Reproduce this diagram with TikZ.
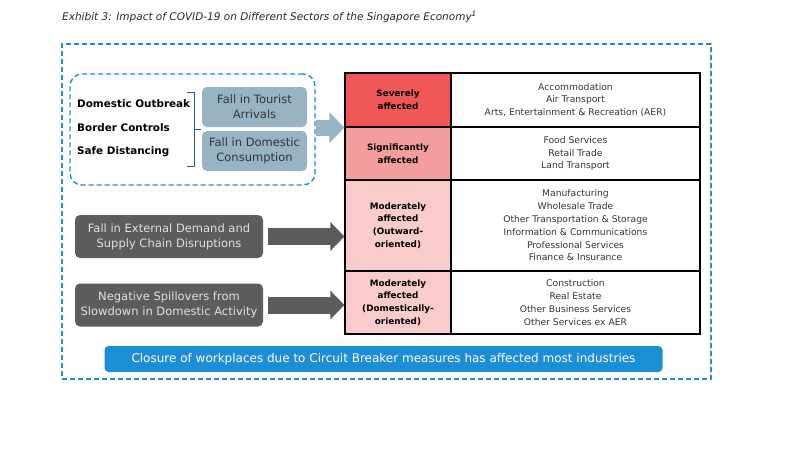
\documentclass[tikz,border=0pt]{standalone}
\usepackage{fontspec}
\setmainfont{DejaVu Sans}
\usetikzlibrary{arrows.meta}

\definecolor{exblue}{RGB}{28,142,213}
\definecolor{greyblue}{RGB}{151,180,196}
\definecolor{darkbox}{RGB}{92,92,92}
\definecolor{severe}{RGB}{239,87,86}
\definecolor{signif}{RGB}{243,158,157}
\definecolor{moder}{RGB}{249,203,203}

\begin{document}
\begin{tikzpicture}[x=1pt,y=-1pt]
	\tikzstyle{frame} = [draw=exblue,line width=1.4pt,dash pattern=on 5pt off 3pt]
	\tikzstyle{cause} = [font=\bfseries\fontsize{10.4}{13}\selectfont,anchor=west]
	\tikzstyle{effect} = [fill=greyblue,rounded corners=5pt,minimum width=105,minimum height=40,
		inner xsep=1pt,align=center,text=black!80,font=\fontsize{11.5}{15}\selectfont]
	\tikzstyle{driver} = [fill=darkbox,rounded corners=5pt,minimum width=188,minimum height=43,
		inner xsep=1pt,align=center,text=black!12,font=\fontsize{11.5}{15}\selectfont]
	\tikzstyle{level} = [draw=black,line width=1.2pt,minimum width=106,align=center,
		font=\bfseries\fontsize{8.8}{12.8}\selectfont]
	\tikzstyle{sectors} = [draw=black,line width=1.2pt,minimum width=249,align=center,
		text=black!80,font=\fontsize{9.2}{12.8}\selectfont]
	\tikzstyle{blockarrow} = [line width=17pt,-{Triangle[length=14pt,width=28pt]}]
	\useasboundingbox (0,0) rectangle (791,453);
	% title and frames
	\node[anchor=west,font=\itshape\fontsize{10.5}{12}\selectfont,text=black!85,inner xsep=0pt] (title) at (62,17)
		{Exhibit 3: Impact of COVID-19 on Different Sectors of the Singapore Economy\textsuperscript{1}};
	\node[frame,minimum width=649,minimum height=335] (outer) at (386.5,211.5) {};
	\node[frame,rounded corners=12pt,minimum width=245,minimum height=111] (inner) at (192.5,129.5) {};
	% causes
	\node[cause,inner xsep=0pt] (outbreak) at (77,104) {Domestic Outbreak};
	\node[cause,inner xsep=0pt] (border) at (77,128) {Border Controls};
	\node[cause,inner xsep=0pt] (distancing) at (77,152) {Safe Distancing};
	\coordinate (bracetop) at (194,92);
	\coordinate (bracebot) at (194,166);
	\draw[exblue!70!black,line width=0.9pt] ([xshift=-7pt]bracetop) -- (bracetop) -- (bracebot) -- ([xshift=-7pt]bracebot);
	\draw[exblue!70!black,line width=0.9pt] (194,129) -- (201,129);
	\node[effect] (tourist) at (254.5,107) {Fall in Tourist\\Arrivals};
	\node[effect] (consumption) at (254.5,151) {Fall in Domestic\\Consumption};
	% table
	\node[level,fill=severe,minimum height=54] (sev) at (398,100) {Severely\\affected};
	\node[level,fill=signif,minimum height=53] (sig) at (398,153.5) {Significantly\\affected};
	\node[level,fill=moder,minimum height=91] (modout) at (398,225.5) {Moderately\\affected\\(Outward-\\oriented)};
	\node[level,fill=moder,minimum height=63] (moddom) at (398,302.5) {Moderately\\affected\\(Domestically-\\oriented)};
	\node[sectors,minimum height=54] (sevlist) at (575.5,100)
		{Accommodation\\Air Transport\\Arts, Entertainment \& Recreation (AER)};
	\node[sectors,minimum height=53] (siglist) at (575.5,153.5)
		{Food Services\\Retail Trade\\Land Transport};
	\node[sectors,minimum height=91] (modoutlist) at (575.5,225.5)
		{Manufacturing\\Wholesale Trade\\Other Transportation \& Storage\\Information \& Communications\\Professional Services\\Finance \& Insurance};
	\node[sectors,minimum height=63] (moddomlist) at (575.5,302.5)
		{Construction\\Real Estate\\Other Business Services\\Other Services ex AER};
	% drivers
	\node[driver] (external) at (169,236.5) {Fall in External Demand and\\Supply Chain Disruptions};
	\node[driver] (spillover) at (169,305) {Negative Spillovers from\\Slowdown in Domestic Activity};
	% arrows
	\draw[blockarrow,greyblue,line width=16pt,-{Triangle[length=15pt,width=30pt]}] (inner.east |- sev.south west) -- (sev.south west);
	\draw[blockarrow,darkbox,shorten <=5pt] (external.east) -- (external.east -| modout.west);
	\draw[blockarrow,darkbox,shorten <=5pt] (spillover.east) -- (spillover.east -| moddom.west);
	% bottom bar
	\node[fill=exblue,rounded corners=4pt,minimum width=558,minimum height=26,text=white,
		font=\fontsize{12}{13}\selectfont] (closure) at (383.5,359)
		{Closure of workplaces due to Circuit Breaker measures has affected most industries};
\end{tikzpicture}
\end{document}
